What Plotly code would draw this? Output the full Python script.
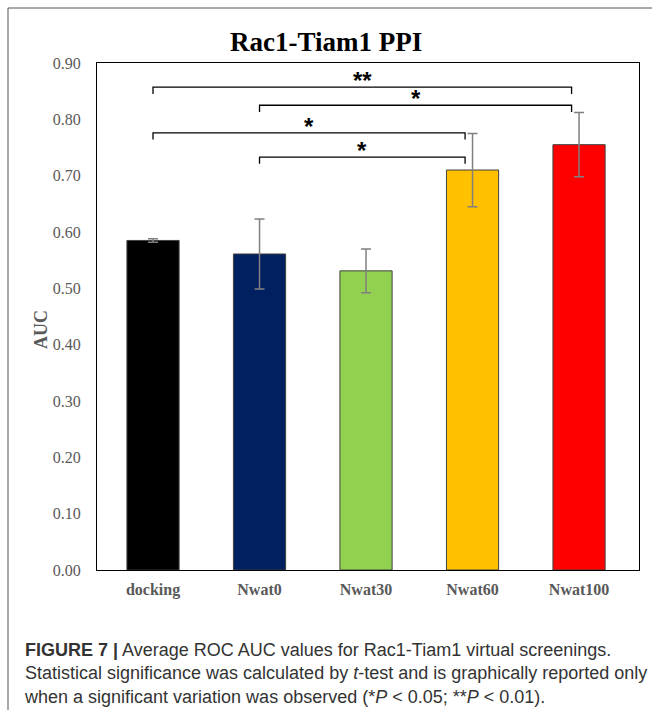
import plotly.graph_objects as go

categories = ["docking", "Nwat0", "Nwat30", "Nwat60", "Nwat100"]
auc_mean = [0.585, 0.561, 0.531, 0.710, 0.755]
auc_err = [0.003, 0.062, 0.039, 0.065, 0.057]
bar_colors = ["#000000", "#002060", "#92D050", "#FFC000", "#FF0000"]

# significance brackets: (left category index, right category index, height, label)
sig_left = [0, 1, 0, 1]
sig_right = [4, 4, 3, 3]
sig_height = [0.857, 0.825, 0.776, 0.733]
sig_label = ["**", "*", "*", "*"]

y_ticks = [0.0, 0.1, 0.2, 0.3, 0.4, 0.5, 0.6, 0.7, 0.8, 0.9]
y_ticktext = [f"{v:.2f}" for v in y_ticks]

W, H = 652, 710
L, R, T, B = 97, 13, 63, 140
pw, ph = W - L - R, H - T - B


def px(x):
    return (x - L) / pw


def py(y):
    return (H - B - y) / ph


fig = go.Figure()
fig.add_trace(go.Bar(
    x=list(range(len(categories))),
    y=auc_mean,
    width=0.49,
    marker=dict(color=bar_colors, line=dict(color="#404040", width=1)),
    error_y=dict(type="data", array=auc_err, visible=True, color="#808080",
                 thickness=1.5, width=5),
    hoverinfo="skip",
))

shapes = []
annotations = []
tick = 0.012
for l, r, h, lab in zip(sig_left, sig_right, sig_height, sig_label):
    x0 = l
    x1 = r - 0.07
    shapes.append(dict(type="path", xref="x", yref="y",
                       path=f"M {x0},{h - tick} L {x0},{h} L {x1},{h} L {x1},{h - tick}",
                       line=dict(color="#000000", width=1.3)))
    annotations.append(dict(x=(x0 + x1) / 2, y=h, xref="x", yref="y", text=f"<b>{lab}</b>",
                            showarrow=False, yanchor="bottom", yshift=-9,
                            font=dict(family="Liberation Sans", size=24, color="#000000")))

# outer figure frame (top and left edges)
shapes.append(dict(type="line", xref="paper", yref="paper",
                   x0=px(8), x1=px(652), y0=py(8), y1=py(8),
                   line=dict(color="#555555", width=1)))
shapes.append(dict(type="line", xref="paper", yref="paper",
                   x0=px(8), x1=px(8), y0=py(8), y1=py(712),
                   line=dict(color="#555555", width=1)))

annotations.append(dict(x=px(326), y=py(42), xref="paper", yref="paper",
                        text="<b>Rac1-Tiam1 PPI</b>", showarrow=False,
                        xanchor="center", yanchor="middle",
                        font=dict(family="Liberation Serif", size=27, color="#000000")))

# y-axis title
annotations.append(dict(x=px(41), y=py(330), xref="paper", yref="paper",
                        text="<b>AUC</b>", showarrow=False, textangle=-90,
                        xanchor="center", yanchor="middle",
                        font=dict(family="Liberation Serif", size=18, color="#595959")))

caption = ("<b>FIGURE 7 |</b> Average ROC AUC values for Rac1-Tiam1 virtual screenings.<br>"
           "Statistical significance was calculated by <i>t</i>-test and is graphically reported only<br>"
           "when a significant variation was observed (*<i>P</i> &lt; 0.05; **<i>P</i> &lt; 0.01).")
annotations.append(dict(x=px(22), y=py(673), xref="paper", yref="paper",
                        text=caption, showarrow=False, xanchor="left", yanchor="middle",
                        align="left",
                        font=dict(family="Liberation Sans", size=18, color="#333333")))

fig.update_layout(
    width=W, height=H,
    margin=dict(l=L, r=R, t=T, b=B, pad=0),
    paper_bgcolor="white", plot_bgcolor="white",
    showlegend=False,
    bargap=0.5,
    shapes=shapes,
    annotations=annotations,
    xaxis=dict(range=[-0.526, 4.563], tickmode="array",
               tickvals=list(range(len(categories))),
               ticktext=[f"<b>{c}</b>" for c in categories],
               showline=True, mirror=True, linecolor="#000000", linewidth=1,
               showgrid=False, zeroline=False, ticks="", ticklabelstandoff=5,
               tickfont=dict(family="Liberation Serif", size=16, color="#595959")),
    yaxis=dict(range=[0, 0.9], tickmode="array", tickvals=y_ticks, ticktext=y_ticktext,
               showline=True, mirror=True, linecolor="#000000", linewidth=1,
               showgrid=False, zeroline=False, ticks="", ticklabelstandoff=12,
               tickfont=dict(family="Liberation Serif", size=16, color="#595959")),
)

fig.write_html("out.html")
